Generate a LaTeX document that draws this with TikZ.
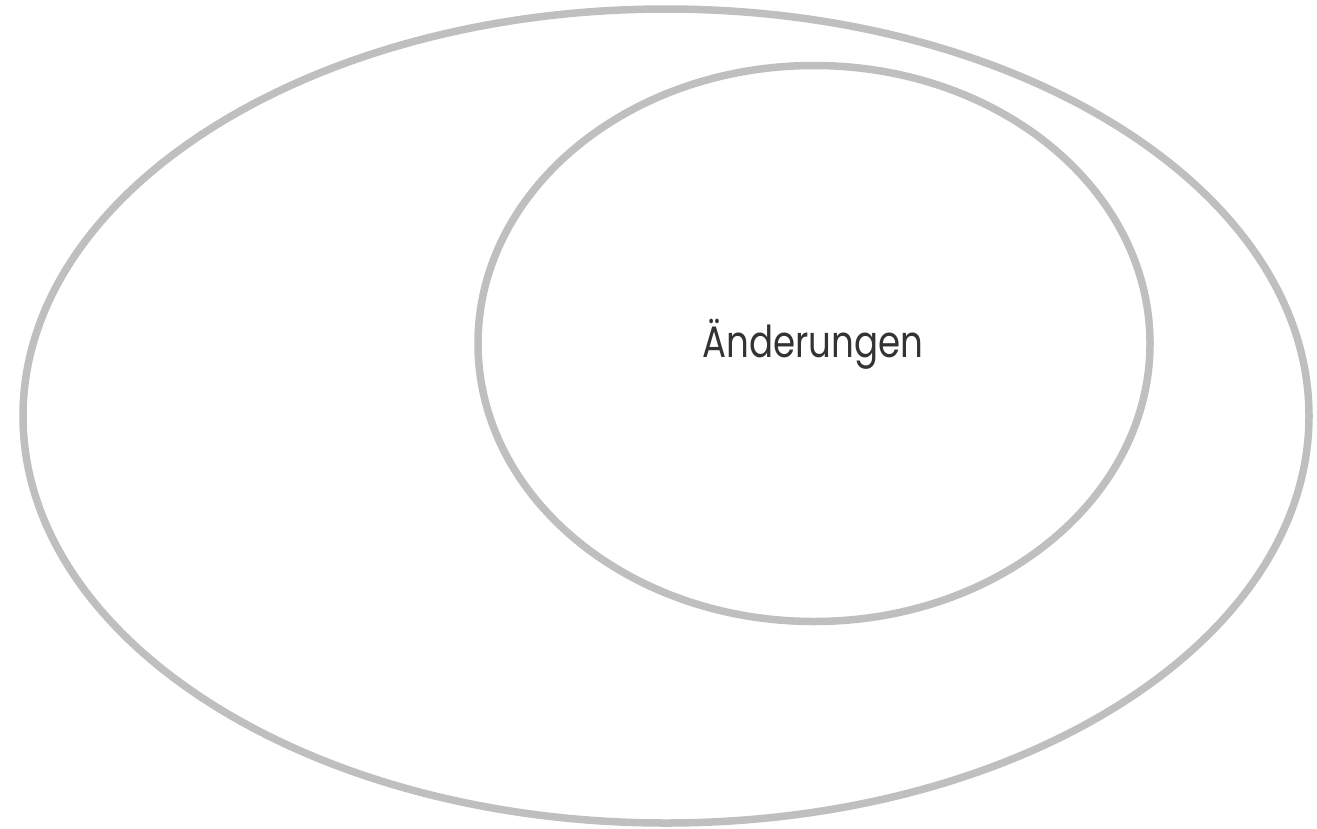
\documentclass[tikz,border=0pt]{standalone}
\usepackage{fontspec}
\usetikzlibrary{shapes.geometric}
\setmainfont{Poppins}
\definecolor{ringgray}{HTML}{BFBFBF}
\definecolor{textgray}{HTML}{333333}
\begin{document}
\begin{tikzpicture}[x=1pt,y=-1pt,
  ring/.style={draw=ringgray,line width=7.5pt,ellipse,inner sep=0pt,outer sep=0pt},
  lbl/.style={text=textgray,font=\fontsize{44}{52}\selectfont,inner sep=0pt}]
\useasboundingbox (0,0) rectangle (1317,828);
\node[ring,minimum width=1286pt,minimum height=814pt] (outer) at (666,416) {};
\node[ring,minimum width=672pt,minimum height=556pt] (inner) at (814,343.5) {};
\node[lbl,anchor=base] (label) at (813,357) {\scalebox{0.81}[1]{Änderungen}};
\end{tikzpicture}
\end{document}
